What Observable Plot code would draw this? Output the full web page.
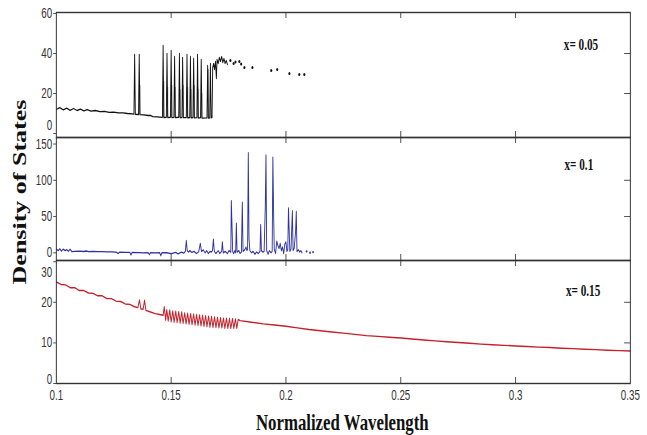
<!DOCTYPE html>
<html><head><meta charset="utf-8">
<script src="https://cdn.jsdelivr.net/npm/d3@7"></script>
<script src="https://cdn.jsdelivr.net/npm/@observablehq/plot@0.6"></script>
<style>
html,body{margin:0;padding:0;background:#fff;width:647px;height:435px;overflow:hidden}
#wrap{position:absolute;left:0;top:0;width:924px;height:435px;transform:scaleX(0.7);transform-origin:0 0}
#wrap svg{position:absolute;left:0;overflow:visible}
.ttl{position:absolute;font-family:"Liberation Serif","Times New Roman",serif;font-weight:bold;color:#111;white-space:nowrap}
</style></head>
<body><div id="wrap"></div>
<script>
// ---------- data ----------
const xTicks = [0.1, 0.15, 0.2, 0.25, 0.3, 0.35];
const panelLabels = ["x= 0.05", "x= 0.1", "x= 0.15"];
const yTicks005 = [0, 20, 40, 60];
const yTicks01 = [0, 50, 100, 150];
const yTicks015 = [0, 10, 20, 30];
const xTitle = "Normalized Wavelength";
const yTitle = "Density of States";

// x = 0.05 (black): [wavelength, DOS]
const dos005 = [
[0.1000,12.0],[0.1015,12.9],[0.1030,11.8],[0.1045,12.7],[0.1060,11.6],[0.1075,12.5],[0.1090,11.5],[0.1105,12.2],[0.1120,11.3],[0.1135,11.9],
[0.1150,11.2],[0.1170,11.5],[0.1190,10.9],[0.1210,11.1],[0.1230,10.6],[0.1250,10.7],[0.1270,10.3],[0.1290,10.3],[0.1310,10.0],[0.1330,9.8],
[0.1338,9.7],[0.1341,39.5],[0.1344,9.6],[0.1358,9.5],[0.1361,39.5],[0.1364,9.4],[0.1380,9.3],[0.1400,9.0],[0.1410,9.1],[0.1420,8.4],
[0.1440,8.3],[0.1462,8.1],[0.1465,44],[0.1468,8.0],[0.1479,8.1],[0.1482,40],[0.1485,8.0],[0.1497,8.1],[0.1500,41.5],[0.1503,7.9],
[0.1512,8.1],[0.1515,38.5],[0.1518,8.0],[0.1533,8.1],[0.1536,40],[0.1539,7.9],[0.1547,8.0],[0.1550,38],[0.1553,7.9],[0.1566,8.0],
[0.1569,39.5],[0.1572,7.8],[0.1581,8.0],[0.1584,38.5],[0.1587,7.8],[0.1595,8.0],[0.1598,37.5],[0.1601,7.8],[0.1612,7.9],[0.1615,39.5],
[0.1618,7.7],[0.1628,7.9],[0.1631,37],[0.1634,7.7],[0.1656,7.8],[0.1659,34],[0.1662,7.7],[0.1668,7.8],[0.1671,35],[0.1674,7.8],
[0.1678,8.0],[0.1681,33],[0.1685,35],[0.1689,32],[0.1693,36],[0.1697,27.5],[0.1700,37],[0.1705,35],[0.1710,38],[0.1715,36],
[0.1720,38.5],[0.1725,35.5],[0.1730,37.5],[0.1735,35],[0.1740,36.5],[0.1745,34.5]
];
// lighter twin peaks: [wavelength, low, high]
const shadow005 = [
[0.1363,9.4,24],[0.1467,8.0,26],[0.1484,8.0,23],[0.1502,8.0,24],[0.1517,8.0,23],[0.1538,8.0,22],[0.1552,8.0,24],
[0.1571,7.8,23],[0.1586,7.8,22],[0.1600,7.8,24],[0.1617,7.7,22],[0.1633,7.7,20],[0.1661,7.7,32]
];
const dots005 = [
[0.1758,36.5],[0.1772,35],[0.1780,35.7],[0.1797,36],[0.1805,34.8],[0.1819,33],[0.1854,33],[0.1936,31.5],[0.1962,32],[0.2015,30],[0.2058,29.5],[0.2080,29.5]
];

// x = 0.1 (blue)
const dos01 = [
[0.1000,5],[0.1008,3],[0.1015,5.5],[0.1022,2.5],[0.1030,5],[0.1038,3],[0.1045,4.5],[0.1052,2],[0.1060,5],[0.1068,1.5],
[0.1080,2],[0.1100,2.2],[0.1120,1.8],[0.1130,2.5],[0.1140,1.5],[0.1160,1.8],[0.1180,1.5],[0.1200,1.6],[0.1220,1.4],[0.1240,1.3],
[0.1260,1.0],[0.1270,-1],[0.1275,0.8],[0.1300,0.6],[0.1320,0.5],[0.1325,-3],[0.1330,0.5],[0.1360,0.2],[0.1380,0.0],[0.1400,0.3],
[0.1405,-2.5],[0.1410,0.2],[0.1430,0.0],[0.1450,0.3],[0.1455,-4],[0.1460,0.2],[0.1480,0.1],[0.1500,-1],[0.1520,0.5],[0.1530,-1.5],
[0.1545,1],[0.1555,-0.5],[0.1562,2],[0.1566,17],[0.1570,3],[0.1575,1],[0.1582,3],[0.1590,0.5],[0.1600,2],[0.1610,-1],
[0.1620,1.5],[0.1627,13],[0.1632,2],[0.1640,4],[0.1648,0],[0.1655,3],[0.1662,-1],[0.1670,2],[0.1675,1],[0.1680,3],
[0.1684,19],[0.1688,2],[0.1695,-1],[0.1705,3],[0.1712,-1],[0.1720,2],[0.1723,15],[0.1727,0],[0.1735,2],[0.1745,-1],
[0.1752,3],[0.1760,1],[0.1762,72],[0.1765,38],[0.1768,2],[0.1772,-1],[0.1778,3],[0.1781,0],[0.1784,41],[0.1787,1],
[0.1795,3],[0.1800,-1],[0.1806,1],[0.1810,70],[0.1813,2],[0.1820,4],[0.1826,8],[0.1830,3],[0.1833,5],[0.1836,138],
[0.1839,20],[0.1843,3],[0.1850,0],[0.1857,2],[0.1865,-2],[0.1872,1],[0.1880,-1],[0.1887,2],[0.1890,39],[0.1893,3],
[0.1900,1],[0.1905,2],[0.1910,64],[0.1913,135],[0.1916,3],[0.1922,-2],[0.1928,3],[0.1935,0],[0.1940,2],[0.1943,132],
[0.1946,61],[0.1949,5],[0.1955,-1],[0.1960,16],[0.1965,10],[0.1970,6],[0.1975,13],[0.1980,3],[0.1985,8],[0.1990,-1],
[0.1995,12],[0.2000,15],[0.2004,2],[0.2008,4],[0.2011,62],[0.2014,31],[0.2017,2],[0.2022,5],[0.2028,58],[0.2031,3],
[0.2036,6],[0.2042,30],[0.2045,57],[0.2048,2],[0.2055,4],[0.2060,1],[0.2065,3],[0.2070,0]
];
const dots01 = [[0.2090,2],[0.2105,0],[0.2118,1]];

// x = 0.15 (red)
const dos015 = [
[0.100,25.0],[0.102,24.4],[0.104,24.3],[0.106,23.6],[0.108,23.6],[0.110,22.9],[0.112,22.9],[0.114,22.3],[0.116,22.2],[0.118,21.6],
[0.120,21.6],[0.122,20.9],[0.124,20.9],[0.126,20.3],[0.128,20.2],[0.130,19.6],[0.132,19.5],[0.134,18.9],[0.1355,18.7],[0.1362,20.6],
[0.1368,18.4],[0.1378,18.3],[0.1384,20.5],[0.1390,18.0],[0.141,17.6],[0.143,17.2],[0.145,17.0],[0.1465,16.8],
[0.1470,18.9],[0.1476,15.6],[0.1481,18.2],[0.1487,15.4],[0.1494,18.1],[0.1500,15.2],[0.1507,17.9],[0.1513,15.1],[0.1520,17.8],[0.1526,15.0],
[0.1533,17.7],[0.1539,14.9],[0.1546,17.6],[0.1552,14.8],[0.1559,17.4],[0.1565,14.7],[0.1572,17.3],[0.1578,14.6],[0.1585,17.2],[0.1591,14.5],
[0.1598,17.1],[0.1604,14.4],[0.1611,17.0],[0.1617,14.3],[0.1624,16.9],[0.1630,14.2],[0.1637,16.8],[0.1643,14.1],[0.1650,16.7],[0.1656,14.0],
[0.1663,16.6],[0.1669,13.9],[0.1676,16.5],[0.1682,13.8],[0.1689,16.4],[0.1695,13.8],[0.1702,16.3],[0.1708,13.7],[0.1715,16.2],[0.1721,13.7],
[0.1728,16.1],[0.1734,13.6],[0.1741,16.1],[0.1747,13.6],[0.1754,16.0],[0.1760,13.6],[0.1767,16.0],[0.1773,13.6],[0.1780,15.9],[0.1786,13.6],
[0.1792,15.8],[0.1800,15.5],
[0.185,15.1],[0.190,14.7],[0.195,14.4],[0.200,14.1],[0.205,13.7],[0.210,13.3],[0.215,13.0],[0.220,12.7],[0.225,12.4],[0.230,12.1],
[0.235,11.8],[0.240,11.6],[0.245,11.4],[0.250,11.2],[0.255,10.95],[0.260,10.7],[0.265,10.5],[0.270,10.3],[0.275,10.1],[0.280,9.9],
[0.285,9.7],[0.290,9.55],[0.295,9.4],[0.300,9.25],[0.305,9.1],[0.310,8.95],[0.315,8.85],[0.320,8.7],[0.325,8.6],[0.330,8.45],
[0.335,8.35],[0.340,8.2],[0.345,8.1],[0.350,8.0]
];

// ---------- layout ----------
const W = 924, ML = 80, MR = 24, IW = W - ML - MR;
const xInner = xTicks.slice(1, -1);
const wrap = document.getElementById("wrap");

function panel(o) {
  const ih = o.height - o.marginTop - o.marginBottom;
  const yInner = o.yTicks.slice(1, -1);
  const shifted = new Map(o.shifts || []);
  const marks = [
    ...o.marks,
    Plot.ruleX(xInner, {x: d => d, insetTop: ih - 6, stroke: "#333"}),
    Plot.ruleX(xInner, {x: d => d, insetBottom: ih - 6, stroke: "#333"}),
    Plot.ruleY(yInner, {y: d => d, insetLeft: IW - 8.5, stroke: "#333"}),
    Plot.axisY(o.yTicks, {anchor: "left", tickSize: 4, tickPadding: 2, label: null,
      tickFormat: d => (shifted.has(d) ? "" : String(d))}),
    Plot.text([o.label], {frameAnchor: "top-right", dx: o.labelDx, dy: o.labelDy, textAnchor: "end",
      fontFamily: "Liberation Serif, Times New Roman, serif", fontWeight: "bold", fontSize: 16, fill: "#111", text: d => d}),
    Plot.frame({stroke: "#333", strokeWidth: 1.4})
  ];
  for (const [v, dy] of shifted) {
    marks.push(Plot.text([v], {y: d => d, frameAnchor: "left", dx: -6, dy,
      textAnchor: "end", text: d => String(d)}));
  }
  if (o.bottomAxis) {
    marks.push(Plot.axisX(xTicks, {anchor: "bottom", tickSize: 0, tickPadding: 7, label: null,
      tickFormat: d => String(d)}));
  }
  const svg = Plot.plot({
    width: W, height: o.height,
    marginTop: o.marginTop, marginBottom: o.marginBottom, marginLeft: ML, marginRight: MR,
    x: {domain: [0.1, 0.35], label: null, axis: o.bottomAxis ? undefined : null},
    y: {domain: o.yDomain, label: null},
    style: {fontFamily: "'Liberation Sans', Arial, sans-serif", fontSize: "14px", color: "#333",
      background: "transparent", overflow: "visible"},
    marks
  });
  svg.style.top = o.top + "px";
  wrap.appendChild(svg);
}

panel({
  top: 0, height: 137, marginTop: 12, marginBottom: 0, yDomain: [-2, 60.5], yTicks: yTicks005,
  shifts: [[0, -8]], label: panelLabels[0], labelDx: -46, labelDy: 26.5,
  marks: [
    Plot.ruleX(shadow005, {x: d => d[0], y1: d => d[1], y2: d => d[2], stroke: "#9a9a9a", strokeWidth: 2.2}),
    Plot.line(dos005, {x: d => d[0], y: d => d[1], stroke: "#111", strokeWidth: 1.3}),
    Plot.dot(dots005, {x: d => d[0], y: d => d[1], r: 1.5, fill: "#111", stroke: "none"})
  ]
});
panel({
  top: 137, height: 123, marginTop: 0, marginBottom: 0, yDomain: [-10.6, 159], yTicks: yTicks01,
  shifts: [], label: panelLabels[1], labelDx: -53, labelDy: 21,
  marks: [
    Plot.line(dos01, {x: d => d[0], y: d => d[1], stroke: "#2f32a0", strokeWidth: 1.3}),
    Plot.dot(dots01, {x: d => d[0], y: d => d[1], r: 1.2, fill: "#2f32a0", stroke: "none"})
  ]
});
panel({
  top: 260, height: 175, marginTop: 0, marginBottom: 52, yDomain: [0, 30.3], yTicks: yTicks015,
  shifts: [[30, 11], [0, -4]], label: panelLabels[2], labelDx: -43, labelDy: 24, bottomAxis: true,
  marks: [
    Plot.line(dos015, {x: d => d[0], y: d => d[1], stroke: "#c4212b", strokeWidth: 1.4})
  ]
});

const xt = document.createElement("div");
xt.className = "ttl"; xt.textContent = xTitle;
Object.assign(xt.style, {left: "489px", top: "422px", fontSize: "24px", transform: "translate(-50%,-50%)"});
wrap.appendChild(xt);
const yt = document.createElement("div");
yt.className = "ttl"; yt.textContent = yTitle;
Object.assign(yt.style, {left: "29px", top: "192px", fontSize: "26px", transform: "translate(-50%,-50%) rotate(-90deg)"});
wrap.appendChild(yt);
</script>
</body></html>
